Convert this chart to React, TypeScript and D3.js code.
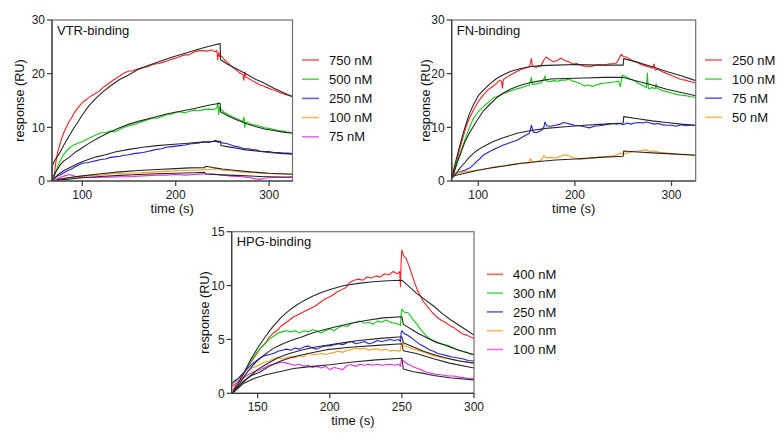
import React from "react";
import * as d3 from "d3";

// ---------- DATA ----------
type Pt = [number, number];

// VTR-binding panel
const vtrLabels = ["750 nM", "500 nM", "250 nM", "100 nM", "75 nM"];
const vtr750: Pt[] = [[69,0],[70,0.8],[71,2.5],[72,3.8],[74,5.6],[76,6.8],[78,8.0],[80,8.9],[82,9.7],[85,10.8],[88,11.6],[91,12.6],[94,13.3],[97,14.0],[100,14.6],[103,15.0],[106,15.4],[110,15.9],[114,16.3],[118,16.7],[122,17.4],[126,17.9],[130,18.4],[134,18.9],[138,19.3],[142,19.8],[146,20.2],[150,20.5],[154,20.5],[158,20.8],[162,21.0],[166,21.2],[170,21.3],[174,21.6],[178,21.8],[182,21.9],[186,22.1],[190,22.3],[194,22.6],[198,22.8],[202,23.0],[206,23.3],[210,23.5],[214,23.5],[218,23.9],[222,24.2],[226,24.3],[230,24.3],[234,24.2],[238,24.4],[242,24.1],[244,24.3],[245,22.6],[246,24.0],[247,23.2],[249,23.3],[252,22.6],[256,22.0],[260,21.3],[264,20.8],[268,20.2],[272,19.8],[273,18.8],[274,20.3],[275,19.4],[278,19.1],[282,18.7],[286,18.3],[290,17.9],[294,17.7],[298,17.4],[302,17.1],[306,16.9],[310,16.6],[314,16.3],[318,16.1],[322,15.9],[325,15.8]];
const vtr500: Pt[] = [[69,0.2],[70,0.8],[72,1.8],[74,2.9],[76,3.6],[78,4.3],[80,4.9],[83,5.6],[86,6.1],[89,6.5],[92,6.8],[95,7.0],[98,7.2],[101,7.4],[105,7.8],[110,8.2],[115,8.6],[120,9.0],[125,9.0],[130,9.3],[135,9.2],[140,9.6],[145,10.0],[150,10.3],[155,10.5],[160,10.8],[165,11.1],[170,11.4],[175,11.7],[180,11.7],[185,12.0],[190,12.3],[195,12.4],[200,12.8],[205,12.9],[210,12.7],[215,13.0],[220,13.2],[225,13.1],[230,13.3],[235,13.4],[240,13.3],[244,13.6],[245,14.6],[246,12.4],[247,13.8],[249,13.3],[252,12.8],[256,12.4],[260,12.0],[264,11.7],[268,11.4],[272,11.1],[273,11.9],[274,10.0],[275,11.0],[278,10.8],[282,10.5],[286,10.4],[290,10.2],[295,9.9],[300,9.8],[305,9.6],[310,9.4],[315,9.3],[320,9.1],[325,9.0]];
const vtr250: Pt[] = [[68,0],[70,0.5],[73,0.9],[76,1.1],[80,1.5],[84,1.9],[88,2.2],[92,2.6],[96,3.0],[100,3.3],[105,3.4],[110,3.6],[115,3.8],[120,4.0],[125,4.1],[130,4.4],[135,4.5],[140,4.6],[145,4.8],[150,4.9],[155,5.1],[160,5.2],[165,5.3],[170,5.5],[175,5.7],[180,5.9],[185,6.0],[190,6.3],[195,6.4],[200,6.5],[205,6.6],[210,6.7],[215,6.9],[220,7.0],[225,7.1],[230,7.3],[235,7.2],[240,7.4],[243,7.6],[245,7.2],[247,7.3],[250,7.1],[254,7.0],[258,6.8],[262,6.5],[266,6.4],[270,6.2],[274,6.0],[278,6.0],[282,5.8],[286,5.8],[290,5.6],[295,5.5],[300,5.5],[305,5.3],[310,5.3],[315,5.2],[320,5.2],[325,5.1]];
const vtr100: Pt[] = [[68,0],[72,0.2],[76,0.4],[80,0.5],[85,0.6],[90,0.7],[95,0.8],[100,0.9],[110,1.0],[120,1.1],[130,1.3],[140,1.4],[150,1.5],[160,1.5],[170,1.6],[180,1.7],[190,1.8],[200,1.9],[210,2.0],[220,2.0],[230,2.1],[240,2.2],[245,2.3],[250,2.0],[260,1.9],[270,1.7],[280,1.6],[290,1.5],[300,1.4],[310,1.3],[325,1.3]];
const vtr75: Pt[] = [[68,0.3],[70,0.6],[74,0.5],[78,0.8],[82,1.0],[86,1.2],[90,1.0],[94,0.8],[98,0.6],[104,0.7],[110,0.6],[120,0.7],[130,0.7],[140,0.8],[150,0.8],[160,0.9],[170,1.0],[180,1.1],[190,1.1],[200,1.2],[210,1.1],[220,1.2],[230,1.3],[240,1.3],[245,1.2],[250,1.1],[260,0.9],[270,0.8],[280,0.6],[285,0.4],[290,0.3],[295,0.5],[300,0.6],[310,0.7],[318,0.7],[325,0.8]];
const vtrFit750: Pt[] = [[67.6,0],[67.8,2.8],[71,4.0],[75,5.0],[80,6.6],[85,8.1],[90,9.6],[95,10.9],[100,12.3],[107,14.0],[115,15.5],[122,16.6],[130,17.7],[140,18.9],[150,19.8],[160,20.8],[172,21.6],[185,22.4],[195,23.0],[210,23.8],[225,24.6],[240,25.3],[247.5,25.6],[248,22.6],[255,21.8],[265,20.9],[275,20.0],[286,18.9],[295,18.2],[305,17.3],[315,16.5],[325,15.7]];
const vtrFit500: Pt[] = [[67.6,0],[68,0.6],[72,1.8],[76,2.9],[80,3.7],[86,4.4],[92,5.3],[100,6.2],[108,7.1],[118,8.1],[128,9.0],[138,9.8],[150,10.6],[162,11.2],[175,11.8],[190,12.5],[205,13.0],[220,13.5],[235,14.1],[247.5,14.5],[248,12.9],[255,12.2],[265,11.4],[275,10.7],[286,10.1],[295,9.7],[305,9.4],[315,9.1],[325,8.9]];
const vtrFit250: Pt[] = [[67.6,0],[70,0.5],[75,1.3],[80,1.9],[88,2.6],[96,3.3],[105,3.9],[115,4.5],[125,4.9],[135,5.4],[150,5.9],[165,6.3],[180,6.6],[195,6.8],[210,7.0],[225,7.2],[240,7.35],[248,7.4],[248.5,6.6],[255,6.4],[265,6.1],[275,5.8],[286,5.6],[300,5.3],[312,5.15],[325,5.0]];
const vtrFit100: Pt[] = [[67.6,0],[75,0.3],[85,0.6],[100,0.95],[120,1.35],[140,1.7],[160,1.95],[180,2.15],[200,2.3],[215,2.45],[231,2.5],[232,2.75],[240,2.5],[250,2.25],[265,1.95],[280,1.7],[300,1.45],[325,1.25]];
const vtrFit75: Pt[] = [[67.6,0],[80,0.25],[100,0.6],[120,0.85],[140,1.05],[160,1.2],[180,1.35],[200,1.45],[220,1.55],[231,1.6],[232,1.3],[250,1.15],[270,1.0],[290,0.85],[310,0.75],[325,0.7]];

// FN-binding panel
const fnLabels = ["250 nM", "100 nM", "75 nM", "50 nM"];
const fn250: Pt[] = [[73,0.8],[74,1.1],[76,2.3],[78,3.8],[81,6.1],[84,8.0],[88,10.4],[91,11.8],[95,13.2],[100,14.8],[105,16.0],[110,17.0],[115,17.6],[119,18.2],[122,18.8],[124,18.6],[125,17.3],[126,18.9],[130,19.4],[133,19.7],[138,20.2],[143,20.7],[148,21.0],[153,21.3],[154,22.0],[155,22.8],[156,21.4],[160,21.2],[165,21.5],[168,22.6],[170,23.1],[174,22.6],[178,22.2],[182,22.5],[186,22.9],[190,22.4],[194,22.2],[198,21.8],[202,21.9],[205,21.6],[210,21.4],[215,21.3],[220,21.5],[225,21.7],[230,21.6],[235,21.8],[240,21.9],[243,22.0],[246,22.9],[248,23.6],[250,23.2],[253,23.1],[256,22.8],[260,22.4],[264,22.2],[268,21.7],[272,21.5],[276,21.3],[280,21.0],[282,21.8],[283,20.7],[286,20.8],[290,20.4],[294,20.1],[298,19.8],[302,19.5],[306,19.2],[310,18.9],[314,18.8],[318,18.6],[322,18.4],[325,18.3]];
const fn100: Pt[] = [[73,0.8],[74,1.7],[76,2.8],[78,3.7],[81,4.8],[84,6.6],[88,8.6],[91,10.0],[95,11.7],[100,12.9],[105,13.8],[110,14.6],[115,15.4],[120,15.8],[126,16.3],[132,16.7],[138,17.1],[143,17.3],[148,17.6],[153,17.9],[154,18.6],[155,19.3],[156,18.0],[160,18.1],[165,18.3],[168,19.0],[169,19.6],[170,18.7],[174,18.5],[178,18.7],[182,18.6],[186,18.8],[190,18.8],[194,19.0],[198,18.6],[202,18.4],[206,18.1],[210,17.7],[214,17.9],[218,17.6],[222,17.9],[226,18.1],[230,18.2],[234,18.3],[238,18.4],[242,18.5],[245,18.6],[247,17.6],[249,19.7],[252,19.5],[256,19.1],[260,18.8],[264,18.4],[268,18.0],[272,17.6],[274,17.4],[275,20.1],[276,17.2],[280,17.4],[283,17.2],[284,18.1],[285,17.3],[290,16.9],[294,16.7],[298,16.5],[302,16.3],[306,16.1],[310,16.0],[315,15.9],[320,15.7],[325,15.6]];
const fn75: Pt[] = [[73,1.2],[74,1.4],[78,1.5],[81,1.7],[86,2.0],[91,2.4],[95,3.0],[98,3.6],[102,4.2],[105,4.8],[110,5.3],[115,5.8],[120,6.2],[126,6.7],[132,7.1],[140,7.6],[145,8.1],[150,8.6],[153,8.9],[155,10.4],[157,9.1],[160,9.0],[165,9.4],[168,10.1],[169,11.0],[171,10.3],[175,10.2],[180,10.4],[185,10.6],[188,10.9],[191,10.8],[195,10.6],[200,10.4],[205,10.3],[210,10.1],[215,9.9],[220,10.2],[225,10.3],[229,10.4],[235,10.6],[240,10.7],[243,10.6],[247,10.7],[250,10.5],[254,10.8],[258,10.6],[262,10.8],[266,10.9],[270,10.8],[274,11.0],[278,10.8],[282,10.6],[286,10.7],[290,10.5],[295,10.4],[300,10.4],[305,10.2],[310,10.5],[315,10.3],[320,10.4],[325,10.4]];
const fn50: Pt[] = [[72.6,1.0],[73,3.4],[73.5,1.2],[75,1.4],[80,1.6],[85,1.7],[90,1.8],[98,2.0],[105,2.2],[112,2.4],[120,2.7],[126,2.8],[132,3.0],[140,3.2],[148,3.4],[152,3.3],[154,4.2],[156,3.5],[160,3.6],[165,3.9],[168,4.7],[170,4.3],[174,4.4],[180,4.3],[185,4.6],[190,4.9],[195,4.6],[200,4.2],[205,4.0],[210,4.1],[215,4.2],[220,4.3],[225,4.4],[230,4.5],[235,4.6],[240,4.7],[244,4.9],[247,5.2],[250,5.0],[254,5.2],[258,5.4],[262,5.5],[266,5.6],[270,5.7],[274,5.8],[278,5.5],[282,5.6],[286,5.4],[290,5.3],[295,5.2],[300,5.1],[305,5.0],[310,4.9],[315,5.0],[320,4.8],[325,4.9]];
const fnFit250: Pt[] = [[72.6,0.8],[74,1.7],[77,3.9],[81,6.7],[85,9.3],[88,11.0],[91,12.6],[95,14.2],[100,15.9],[105,16.9],[112,18.1],[119,19.1],[126,19.8],[133,20.4],[143,20.9],[153,21.3],[165,21.5],[180,21.6],[200,21.7],[225,21.6],[250,21.6],[250.5,22.8],[265,22.1],[280,21.3],[295,20.4],[310,19.6],[325,18.7]];
const fnFit100: Pt[] = [[72.6,0.5],[74,1.1],[78,3.3],[81,4.8],[86,7.2],[91,9.0],[98,11.1],[105,13.0],[112,14.3],[119,15.5],[126,16.4],[133,17.1],[143,17.8],[153,18.3],[165,18.7],[175,19.0],[190,19.1],[210,19.2],[230,19.3],[250,19.3],[265,18.6],[280,17.9],[295,17.1],[310,16.5],[325,15.9]];
const fnFit75: Pt[] = [[72.6,0.5],[74,0.8],[78,1.6],[81,2.4],[86,3.4],[91,4.5],[98,5.6],[105,6.4],[115,7.3],[125,8.0],[140,8.9],[155,9.4],[170,9.8],[190,10.1],[210,10.4],[230,10.6],[250,10.8],[250.5,12.0],[265,11.6],[280,11.2],[295,10.9],[310,10.6],[325,10.4]];
const fnFit50: Pt[] = [[72.6,0.8],[80,1.2],[90,1.6],[100,2.0],[115,2.5],[130,2.9],[145,3.3],[160,3.6],[180,3.9],[200,4.1],[225,4.4],[250,4.6],[250.5,5.6],[265,5.4],[285,5.2],[305,5.0],[325,4.8]];

// HPG-binding panel
const hpgLabels = ["400 nM", "300 nM", "250 nM", "200 nm", "100 nM"];
const hpg400: Pt[] = [[133,0.2],[134,0.6],[136,1.0],[138,1.4],[141,2.0],[143,2.5],[146,3.0],[149,3.6],[152,4.2],[155,4.6],[158,5.2],[161,5.6],[164,5.9],[166,6.2],[169,6.5],[172,6.8],[175,7.1],[178,7.3],[181,7.5],[184,7.7],[187,7.9],[190,8.1],[193,8.4],[196,8.7],[199,8.9],[202,9.1],[205,9.4],[208,9.6],[211,9.8],[214,10.3],[217,10.5],[220,10.6],[223,10.5],[226,10.8],[229,10.7],[232,10.9],[235,10.8],[238,11.1],[241,11.0],[244,11.3],[247,11.1],[248.5,11.3],[249,9.9],[249.5,12.4],[250,13.3],[251,12.8],[253,12.5],[255,11.8],[257,11.0],[259,10.2],[261,9.5],[263,9.0],[265,8.5],[268,8.0],[271,7.5],[274,7.1],[277,6.8],[280,6.6],[283,6.3],[286,6.1],[289,5.8],[292,5.5],[295,5.4],[298,5.2],[300,5.1]];
const hpg300: Pt[] = [[132.5,1.0],[134,1.2],[136,1.3],[138,1.6],[141,2.0],[143,2.4],[146,3.1],[149,3.7],[152,4.2],[155,4.6],[158,5.0],[161,5.3],[164,5.6],[167,5.7],[170,5.8],[173,5.7],[176,5.8],[179,5.6],[182,5.8],[185,5.7],[188,5.9],[191,5.8],[194,5.6],[197,5.8],[200,6.0],[203,5.8],[206,6.1],[209,6.3],[212,6.2],[215,6.5],[218,6.6],[221,6.7],[224,6.5],[227,6.6],[230,6.4],[233,6.7],[236,6.6],[239,6.8],[242,6.6],[245,6.5],[248,6.4],[249,6.3],[249.5,7.4],[250,7.8],[252,7.5],[254,7.5],[256,7.2],[258,6.8],[260,6.5],[262,6.1],[265,5.6],[268,5.2],[271,4.9],[274,4.7],[277,4.6],[280,4.5],[283,4.4],[286,4.2],[289,4.0],[292,3.9],[295,3.8],[298,3.6],[300,3.6]];
const hpg250: Pt[] = [[132.5,0.9],[134,1.1],[136,1.3],[138,1.6],[141,2.0],[143,2.3],[146,2.7],[149,3.0],[152,3.3],[155,3.5],[158,3.6],[161,3.7],[164,3.9],[167,4.0],[170,4.1],[173,4.0],[176,4.2],[179,4.1],[182,4.3],[185,4.4],[188,4.2],[191,4.1],[194,4.3],[197,4.4],[200,4.4],[203,4.5],[206,4.6],[209,4.5],[212,4.7],[215,4.8],[218,4.6],[221,4.7],[224,4.8],[227,4.6],[230,4.7],[233,4.9],[236,4.8],[239,4.9],[242,5.0],[245,4.9],[248,5.0],[249,4.8],[249.5,5.6],[250,5.8],[252,5.5],[254,5.4],[256,5.2],[258,5.0],[260,4.8],[263,4.5],[266,4.3],[269,4.05],[272,3.9],[275,3.7],[278,3.6],[281,3.5],[284,3.4],[288,3.3],[292,3.2],[296,3.05],[300,3.0]];
const hpg200: Pt[] = [[132.5,0.8],[134,1.0],[136,1.1],[138,1.3],[141,1.7],[143,2.0],[146,2.35],[149,2.5],[152,2.7],[155,2.9],[158,3.0],[161,3.2],[164,3.3],[167,3.2],[170,3.3],[173,3.4],[176,3.3],[179,3.5],[182,3.4],[185,3.7],[188,3.6],[191,3.6],[194,3.7],[197,3.6],[200,3.7],[203,3.8],[206,3.9],[209,3.8],[212,4.0],[215,4.05],[218,4.2],[221,4.1],[224,4.2],[227,4.0],[230,4.1],[233,4.1],[236,4.0],[239,4.1],[242,3.9],[245,4.0],[248,3.9],[249,4.0],[249.5,4.5],[250,4.7],[252,4.4],[254,4.3],[256,4.2],[258,4.1],[260,4.05],[263,3.9],[266,3.8],[269,3.6],[272,3.5],[275,3.4],[278,3.3],[282,3.2],[286,3.1],[290,3.0],[295,2.9],[300,2.8]];
const hpg100: Pt[] = [[132.5,0.7],[134,0.8],[136,1.0],[138,1.2],[141,1.5],[143,1.7],[146,1.9],[149,2.1],[152,2.2],[155,2.4],[158,2.6],[161,2.7],[164,2.8],[167,2.9],[170,2.8],[173,2.7],[176,2.6],[179,2.7],[182,2.5],[185,2.6],[188,2.4],[191,2.5],[194,2.35],[197,2.5],[200,2.2],[203,2.4],[206,2.3],[209,2.2],[212,2.6],[215,2.65],[218,2.5],[221,2.7],[224,2.6],[227,2.7],[230,2.6],[233,2.7],[236,2.6],[239,2.65],[242,2.7],[245,2.6],[248,2.7],[249,2.5],[249.5,3.0],[250,3.1],[252,2.9],[254,2.7],[256,2.6],[258,2.45],[260,2.35],[263,2.2],[266,2.0],[269,1.9],[272,1.8],[275,1.75],[278,1.7],[282,1.6],[286,1.6],[290,1.5],[295,1.4],[300,1.4]];
const hpgFit400: Pt[] = [[132.5,0],[134,0.4],[136,0.8],[141,2.0],[145,3.1],[150,4.2],[155,5.2],[160,6.1],[166,7.0],[171,7.6],[176,8.1],[182,8.6],[188,9.0],[195,9.4],[202,9.7],[210,10.0],[220,10.2],[230,10.35],[240,10.45],[250,10.5],[255,9.9],[260,9.3],[266,8.7],[272,8.1],[278,7.4],[284,6.8],[292,6.1],[300,5.4]];
const hpgFit300: Pt[] = [[132.5,0],[134,0.3],[137,0.8],[143,2.0],[148,2.8],[153,3.4],[160,4.1],[166,4.5],[173,4.9],[180,5.2],[188,5.6],[196,5.9],[205,6.2],[215,6.5],[225,6.75],[237,7.0],[250,7.1],[251,6.4],[256,6.0],[262,5.5],[268,5.1],[274,4.75],[280,4.45],[286,4.15],[293,3.85],[300,3.6]];
const hpgFit250: Pt[] = [[132.5,0],[135,0.4],[138,0.8],[143,1.4],[150,2.2],[156,2.7],[164,3.3],[172,3.7],[180,4.0],[190,4.3],[200,4.5],[210,4.7],[220,4.9],[235,5.1],[250,5.25],[251,4.7],[258,4.3],[265,3.9],[272,3.6],[280,3.3],[290,3.0],[300,2.8]];
const hpgFit200: Pt[] = [[132.5,0],[136,0.5],[140,1.1],[145,1.6],[152,2.0],[158,2.5],[166,3.0],[175,3.4],[185,3.7],[198,4.05],[216,4.3],[233,4.45],[250,4.6],[251,3.95],[260,3.7],[272,3.2],[283,2.8],[300,2.35]];
const hpgFit100: Pt[] = [[132.5,0],[135,0.3],[140,0.9],[148,1.4],[155,1.7],[165,2.0],[175,2.3],[188,2.5],[200,2.65],[216,2.9],[232,3.1],[250,3.25],[251,2.25],[258,2.0],[265,1.85],[272,1.65],[283,1.45],[300,1.25]];

const xTicksVtr = [100, 200, 300];
const xTicksFn = [100, 200, 300];
const xTicksHpg = [150, 200, 250, 300];
const yTicks30 = [0, 10, 20, 30];
const yTicks15 = [0, 5, 10, 15];

// ---------- STYLE ----------
const COLORS = ["#ff1f1f", "#12c812", "#2020f0", "#ff9a1a", "#e52ce5"];
const FONT = "'Liberation Sans', Arial, Helvetica, sans-serif";

type PanelDef = {
  title: string;
  left: number; right: number; top: number; bottom: number;
  xDomain: [number, number]; yDomain: [number, number];
  xTicks: number[]; yTicks: number[];
  series: Pt[][]; fits: Pt[][]; labels: string[]; colors: string[];
  ylabelX: number;
  legend: { x1: number; x2: number; tx: number; y0: number; dy: number };
};

const panels: PanelDef[] = [
  {
    title: "VTR-binding",
    left: 52, right: 292.5, top: 20, bottom: 181,
    xDomain: [67.6, 325], yDomain: [0, 30],
    xTicks: xTicksVtr, yTicks: yTicks30,
    series: [vtr750, vtr500, vtr250, vtr100, vtr75],
    fits: [vtrFit750, vtrFit500, vtrFit250, vtrFit100, vtrFit75],
    labels: vtrLabels, colors: COLORS,
    ylabelX: 24,
    legend: { x1: 302, x2: 319, tx: 329, y0: 60, dy: 19.2 },
  },
  {
    title: "FN-binding",
    left: 451.7, right: 695.7, top: 20, bottom: 181,
    xDomain: [72.5, 325], yDomain: [0, 30],
    xTicks: xTicksFn, yTicks: yTicks30,
    series: [fn250, fn100, fn75, fn50],
    fits: [fnFit250, fnFit100, fnFit75, fnFit50],
    labels: fnLabels, colors: COLORS.slice(0, 4),
    ylabelX: 429.5,
    legend: { x1: 705, x2: 722, tx: 732, y0: 60, dy: 19.1 },
  },
  {
    title: "HPG-binding",
    left: 231.7, right: 474, top: 231.7, bottom: 393.3,
    xDomain: [132, 300], yDomain: [0, 15],
    xTicks: xTicksHpg, yTicks: yTicks15,
    series: [hpg400, hpg300, hpg250, hpg200, hpg100],
    fits: [hpgFit400, hpgFit300, hpgFit250, hpgFit200, hpgFit100],
    labels: hpgLabels, colors: COLORS,
    ylabelX: 209,
    legend: { x1: 487, x2: 503, tx: 513, y0: 274.3, dy: 18.8 },
  },
];

function Panel({ p }: { p: PanelDef }) {
  const x = d3.scaleLinear().domain(p.xDomain).range([p.left, p.right]);
  const y = d3.scaleLinear().domain(p.yDomain).range([p.bottom, p.top]);
  const line = d3
    .line<Pt>()
    .x((d) => x(d[0]))
    .y((d) => y(d[1]));
  const clipId = "clip-" + p.title;
  const cx = (p.left + p.right) / 2;
  const cy = (p.top + p.bottom) / 2;
  return (
    <g>
      <defs>
        <clipPath id={clipId}>
          <rect x={p.left} y={p.top} width={p.right - p.left} height={p.bottom - p.top} />
        </clipPath>
      </defs>
      <g clipPath={`url(#${clipId})`}>
        {p.series.map((s, i) => (
          <path key={"s" + i} d={line(s) || ""} fill="none" stroke={p.colors[i]} strokeWidth={1.1} strokeLinejoin="round" />
        ))}
        {p.fits.map((s, i) => (
          <path key={"f" + i} d={line(s) || ""} fill="none" stroke="#262626" strokeWidth={1.1} strokeLinejoin="round" />
        ))}
      </g>
      <rect x={p.left} y={p.top} width={p.right - p.left} height={p.bottom - p.top} fill="none" stroke="#6e6e6e" strokeWidth={1.2} />
      <line x1={p.left} x2={p.left} y1={p.top} y2={p.bottom} stroke="#3a3a3a" strokeWidth={1.2} />
      <line x1={p.left} x2={p.right} y1={p.bottom} y2={p.bottom} stroke="#3a3a3a" strokeWidth={1.2} />
      {p.xTicks.map((t) => (
        <g key={"xt" + t}>
          <line x1={x(t)} x2={x(t)} y1={p.bottom} y2={p.bottom + 5} stroke="#3a3a3a" strokeWidth={1.2} />
          <text x={x(t)} y={p.bottom + 18} textAnchor="middle" fontSize={12} fontFamily={FONT} fill="#222">
            {t}
          </text>
        </g>
      ))}
      {p.yTicks.map((t) => (
        <g key={"yt" + t}>
          <line x1={p.left - 5} x2={p.left} y1={y(t)} y2={y(t)} stroke="#3a3a3a" strokeWidth={1.2} />
          <text x={p.left - 7} y={y(t) + 4.3} textAnchor="end" fontSize={12} fontFamily={FONT} fill="#222">
            {t}
          </text>
        </g>
      ))}
      <text x={p.left + 5} y={p.top + 14.5} fontSize={13} fontFamily={FONT} fill="#111">
        {p.title}
      </text>
      <text x={cx} y={p.bottom + 32} textAnchor="middle" fontSize={13} fontFamily={FONT} fill="#111">
        time (s)
      </text>
      <text transform={`translate(${p.ylabelX},${cy}) rotate(-90)`} textAnchor="middle" fontSize={12.7} fontFamily={FONT} fill="#111">
        response (RU)
      </text>
      {p.labels.map((lab, i) => {
        const ly = p.legend.y0 + i * p.legend.dy;
        return (
          <g key={"lg" + i}>
            <line x1={p.legend.x1} x2={p.legend.x2} y1={ly} y2={ly} stroke={p.colors[i]} strokeWidth={1.6} strokeOpacity={0.7} />
            <text x={p.legend.tx} y={ly + 4.6} fontSize={13} fontFamily={FONT} fill="#111">
              {lab}
            </text>
          </g>
        );
      })}
    </g>
  );
}

export default function App() {
  return (
    <svg
      width={784}
      height={441}
      viewBox="0 0 784 441"
      style={{ position: "absolute", left: 0, top: 0, background: "#fff" }}
    >
      <rect x={0} y={0} width={784} height={441} fill="#fff" />
      {panels.map((p) => (
        <Panel key={p.title} p={p} />
      ))}
    </svg>
  );
}
